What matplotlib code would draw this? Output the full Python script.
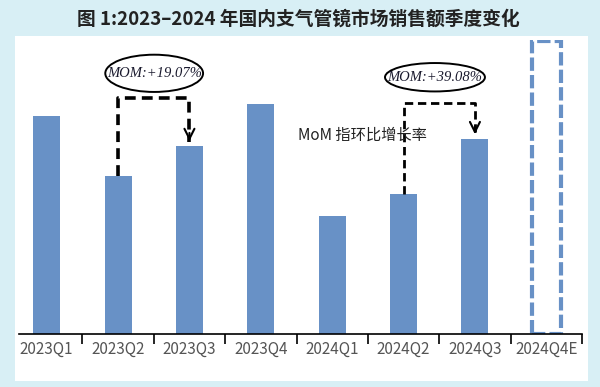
import matplotlib.pyplot as plt
from matplotlib.patches import Ellipse, Rectangle

plt.rcParams['font.family'] = ['Noto Sans CJK SC', 'DejaVu Sans']

quarters = ['2023Q1', '2023Q2', '2023Q3', '2023Q4', '2024Q1', '2024Q2', '2024Q3', '2024Q4E']
sales = [22.2, 16.1, 19.2, 23.5, 12.0, 14.3, 19.9, 29.9]
mom_labels = ['MOM:+19.07%', 'MOM:+39.08%']
mom_pairs = [(1, 2), (5, 6)]

bar_color = '#6891c6'

fig = plt.figure(figsize=(6, 3.87), dpi=100, facecolor='#d8eff5')
# white panel behind the plot
fig.patches.append(Rectangle((0.025, 0.0155), 0.955, 0.891, transform=fig.transFigure,
                             facecolor='white', edgecolor='none', zorder=-5))
fig.text(0.497, 1 - 19 / 387, '图 1:2023–2024 年国内支气管镜市场销售额季度变化',
         ha='center', va='center', fontsize=13.5, fontweight='bold', color='#222222')

ax = fig.add_axes([11 / 600, 53 / 387, 571 / 600, 294 / 387])
ax.set_facecolor('none')
ax.set_zorder(2)

x = list(range(len(quarters)))
ax.bar(x[:-1], sales[:-1], width=0.38, color=bar_color, zorder=2)
ax.bar(x[-1], sales[-1], width=0.40, facecolor='none', edgecolor=bar_color,
       linewidth=3, linestyle=(0, (3.2, 1.0)), zorder=2)

ax.set_xlim(-0.5, 7.5)
ax.set_ylim(0, 30)

for sp in ['left', 'right', 'top']:
    ax.spines[sp].set_visible(False)
ax.spines['bottom'].set_linewidth(1.2)
ax.spines['bottom'].set_bounds(-0.385, 7.5)
ax.set_yticks([])
ax.set_xticks(x)
ax.set_xticklabels(quarters, fontsize=11, color='#555555')
ax.tick_params(axis='x', which='major', length=0, pad=5)
ax.set_xticks([i + 0.5 for i in x], minor=True)
ax.tick_params(axis='x', which='minor', length=7, width=1.2, direction='out')

# MoM connectors
tops_y = [24.1, 23.6]
ell = [(1.506, 26.6, 1.37, 3.8), (5.44, 26.2, 1.40, 2.9)]
line_w = [2.6, 2.0]
for (a, b), ty, (ex, ey, ew, eh), lab, lw in zip(mom_pairs, tops_y, ell, mom_labels, line_w):
    ax.plot([a, a, b, b], [sales[a], ty, ty, sales[b] + 0.35], color='black',
            linewidth=lw, linestyle=(0, (3, 1.7)), zorder=3, clip_on=False)
    ax.annotate('', xy=(b, sales[b] + 0.2), xytext=(b, sales[b] + 1.6),
                arrowprops=dict(arrowstyle='->', color='black', lw=1.5,
                                mutation_scale=18), zorder=4)
    ax.add_patch(Ellipse((ex, ey), ew, eh, facecolor='white', edgecolor='black',
                         linewidth=1.4, zorder=4, clip_on=False))
    ax.text(ex, ey, lab, ha='center', va='center', fontsize=10.5, style='italic',
            family='Liberation Serif', color='#1a1a2e', zorder=5)

ax.text(4.42, 20.3, 'MoM 指环比增长率', ha='center', va='center', fontsize=11,
        color='#222222', zorder=5)

fig.savefig('out.png', dpi=100, facecolor=fig.get_facecolor())
